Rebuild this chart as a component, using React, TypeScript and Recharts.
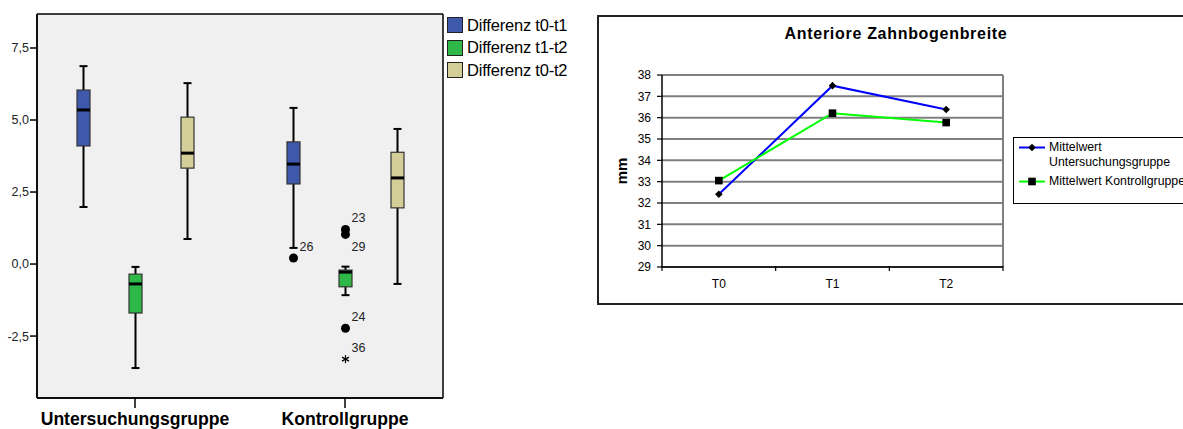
import React from "react";
import {
  ComposedChart,
  Bar,
  XAxis,
  YAxis,
  CartesianGrid,
  Legend,
  LineChart,
  Line,
} from "recharts";

const gruppen = ["Untersuchungsgruppe", "Kontrollgruppe"];

// Kennwerte je Gruppe: [Minimum, Q1, Median, Q3, Maximum]
const differenzT0T1 = [
  [1.98, 4.1, 5.35, 6.04, 6.87],
  [0.56, 2.78, 3.47, 4.24, 5.42],
];
const differenzT1T2 = [
  [-3.61, -1.7, -0.69, -0.35, -0.1],
  [-1.08, -0.79, -0.28, -0.21, -0.09],
];
const differenzT0T2 = [
  [0.87, 3.33, 3.85, 5.1, 6.28],
  [-0.69, 1.95, 2.99, 3.88, 4.69],
];

// Ausreißer mit Fallnummer; extrem = Stern statt Punkt
const ausreisserT0T1 = [[], [{ fall: "26", wert: 0.21 }]];
const ausreisserT1T2 = [
  [],
  [
    { fall: "23", wert: 1.2 },
    { fall: "29", wert: 1.03 },
    { fall: "24", wert: -2.23 },
    { fall: "36", wert: -3.3, extrem: true },
  ],
];
const ausreisserT0T2 = [[], []];

const boxTicks = [-2.5, 0, 2.5, 5, 7.5];

const zeitpunkte = ["T0", "T1", "T2"];
const mittelUntersuchung = [32.41, 37.5, 36.38];
const mittelKontroll = [33.05, 36.21, 35.77];
const mmTicks = [29, 30, 31, 32, 33, 34, 35, 36, 37, 38];

const SCHRIFT = "'Liberation Sans', Arial, Helvetica, sans-serif";

type Ausreisser = { fall: string; wert: number; extrem?: boolean };

const boxReihen = [
  { key: "t0t1", name: "Differenz t0-t1", farbe: "#3e58ac", werte: differenzT0T1, aus: ausreisserT0T1 },
  { key: "t1t2", name: "Differenz t1-t2", farbe: "#2eb848", werte: differenzT1T2, aus: ausreisserT1T2 },
  { key: "t0t2", name: "Differenz t0-t2", farbe: "#d3ce97", werte: differenzT0T2, aus: ausreisserT0T2 },
];

const boxDaten = gruppen.map((gruppe, i) => {
  const row: Record<string, any> = { gruppe };
  boxReihen.forEach((r) => {
    row[r.key] = r.werte[i];
    row[r.key + "Aus"] = r.aus[i];
  });
  return row;
});

// Zeitpunkte liegen auf 0, 1, 2; Teilstriche auf den Kategoriegrenzen dazwischen
const zeitTicks = [-0.5, 0, 0.5, 1, 1.5, 2, 2.5];

const mmDaten = zeitpunkte.map((t, i) => ({
  t,
  pos: i,
  unters: mittelUntersuchung[i],
  kontroll: mittelKontroll[i],
}));

// Box mit Whiskern; der Balken selbst spannt Minimum..Maximum auf,
// daraus ergibt sich die Pixelskala für Quartile, Median und Ausreißer
function BoxForm(props: any) {
  const { x, y, width, height, werte, ausreisser, farbe } = props;
  const [min, q1, med, q3, max] = werte as number[];
  const k = height / (max - min);
  const py = (v: number) => y + (max - v) * k;
  const cx = x + width / 2;
  const kappe = 4;
  return (
    <g>
      <line x1={cx} x2={cx} y1={py(max)} y2={py(q3)} stroke="#000" strokeWidth={2} />
      <line x1={cx} x2={cx} y1={py(q1)} y2={py(min)} stroke="#000" strokeWidth={2} />
      <line x1={cx - kappe} x2={cx + kappe} y1={py(max)} y2={py(max)} stroke="#000" strokeWidth={2} />
      <line x1={cx - kappe} x2={cx + kappe} y1={py(min)} y2={py(min)} stroke="#000" strokeWidth={2} />
      <rect x={x} y={py(q3)} width={width} height={py(q1) - py(q3)} fill={farbe} stroke="#333" strokeWidth={1.2} />
      <line x1={x} x2={x + width} y1={py(med)} y2={py(med)} stroke="#000" strokeWidth={3} />
      {(ausreisser as Ausreisser[]).map((a) => {
        const ay = py(a.wert);
        const nahDarueber = (ausreisser as Ausreisser[]).some(
          (b) => b.wert > a.wert && b.wert - a.wert < 0.3
        );
        const ly = nahDarueber ? ay + 13 : ay - 11;
        return (
          <g key={a.fall}>
            {a.extrem ? (
              <g stroke="#000" strokeWidth={1.2}>
                <line x1={cx} x2={cx} y1={ay - 4} y2={ay + 4} />
                <line x1={cx - 3.5} x2={cx + 3.5} y1={ay - 2} y2={ay + 2} />
                <line x1={cx - 3.5} x2={cx + 3.5} y1={ay + 2} y2={ay - 2} />
              </g>
            ) : (
              <circle cx={cx} cy={ay} r={4.5} fill="#000" />
            )}
            <text x={cx + 6} y={ly} dominantBaseline="central" fontSize={12.5} fill="#222" fontFamily={SCHRIFT}>
              {a.fall}
            </text>
          </g>
        );
      })}
    </g>
  );
}

function GruppenTick(props: any) {
  const { x, y, payload } = props;
  return (
    <text x={x} y={y + 15} textAnchor="middle" fontWeight="bold" fontSize={17.6} fill="#000" fontFamily={SCHRIFT}>
      {payload.value}
    </text>
  );
}

function BoxLegende() {
  return (
    <div style={{ fontFamily: SCHRIFT, fontSize: 16.5, color: "#000" }}>
      {boxReihen.map((r) => (
        <div key={r.key} style={{ display: "flex", alignItems: "center", height: 22.5 }}>
          <span
            style={{
              display: "inline-block",
              width: 14,
              height: 14,
              background: r.farbe,
              border: "1.5px solid #222",
              marginRight: 4,
            }}
          />
          <span style={{ letterSpacing: -0.2 }}>{r.name}</span>
        </div>
      ))}
    </div>
  );
}

// Teilstrich an Kategoriegrenzen, Beschriftung an den Zeitpunkten
function ZeitTick(props: any) {
  const { x, y, payload } = props;
  const v = payload.value as number;
  if (!Number.isInteger(v)) {
    return <line x1={x} x2={x} y1={y - 5} y2={y} stroke="#000" strokeWidth={1.2} />;
  }
  return (
    <text x={x} y={y + 17} textAnchor="middle" fontSize={12} fill="#000" fontFamily={SCHRIFT}>
      {zeitpunkte[v]}
    </text>
  );
}

function Raute(props: any) {
  const { cx, cy } = props;
  if (cx == null || cy == null) return null;
  return <path d={`M${cx},${cy - 3.8}L${cx + 3.8},${cy}L${cx},${cy + 3.8}L${cx - 3.8},${cy}Z`} fill="#000" />;
}

function Quadrat(props: any) {
  const { cx, cy } = props;
  if (cx == null || cy == null) return null;
  return <rect x={cx - 3.8} y={cy - 3.8} width={7.6} height={7.6} fill="#000" />;
}

function LinienLegende() {
  const zeile = (farbe: string, marker: React.ReactNode, text: React.ReactNode) => (
    <div style={{ display: "flex", alignItems: "flex-start" }}>
      <svg width={32} height={15} style={{ flex: "none" }}>
        <line x1={4} x2={30} y1={7.5} y2={7.5} stroke={farbe} strokeWidth={2} />
        {marker}
      </svg>
      <div style={{ lineHeight: "15px", paddingLeft: 2, whiteSpace: "nowrap" }}>{text}</div>
    </div>
  );
  return (
    <div
      style={{
        border: "1.5px solid #000",
        width: 260,
        height: 67,
        boxSizing: "border-box",
        padding: "2px 0 0 1px",
        fontFamily: SCHRIFT,
        fontSize: 12.3,
        color: "#000",
        background: "#fff",
      }}
    >
      {zeile(
        "#0000ff",
        <path d="M17,3.7L20.8,7.5L17,11.3L13.2,7.5Z" fill="#000" />,
        <>
          Mittelwert
          <br />
          Untersuchungsgruppe
        </>
      )}
      <div style={{ height: 4 }} />
      {zeile("#00ff00", <rect x={13.2} y={3.7} width={7.6} height={7.6} fill="#000" />, "Mittelwert Kontrollgruppe")}
    </div>
  );
}

const schwarzeLinie = { stroke: "#000", strokeWidth: 1.5 };

export default function App() {
  return (
    <div
      style={{
        position: "fixed",
        left: 0,
        top: 0,
        width: 1183,
        height: 429,
        overflow: "hidden",
        background: "#fff",
        fontFamily: SCHRIFT,
      }}
    >
      <div style={{ position: "absolute", left: 0, top: 0 }}>
        <ComposedChart
          width={595}
          height={429}
          data={boxDaten}
          margin={{ top: 14, right: 152, bottom: 0, left: 0 }}
          barGap={39}
        >
          {/* grauer Hintergrund mit Rahmen um die Zeichenfläche */}
          <CartesianGrid
            fill="#f0f0f0"
            fillOpacity={1}
            stroke="#000"
            strokeWidth={1.5}
            horizontalCoordinatesGenerator={({ offset }: any) => [offset.top, offset.top + offset.height]}
            verticalCoordinatesGenerator={({ offset }: any) => [offset.left, offset.left + offset.width]}
          />
          <XAxis
            dataKey="gruppe"
            height={31}
            padding={{ left: -7, right: -7 }}
            tickSize={10}
            tick={<GruppenTick />}
            axisLine={schwarzeLinie}
            tickLine={schwarzeLinie}
          />
          <YAxis
            domain={[-4.65, 8.68]}
            ticks={boxTicks}
            allowDataOverflow
            width={37}
            tickSize={7}
            tickMargin={1}
            axisLine={schwarzeLinie}
            tickLine={schwarzeLinie}
            tick={{ fontSize: 12.5, fill: "#222", fontFamily: SCHRIFT }}
            tickFormatter={(v: number) => v.toFixed(1).replace(".", ",")}
          />
          <Legend
            layout="vertical"
            align="center"
            verticalAlign="middle"
            wrapperStyle={{ left: 447, top: 14 }}
            content={<BoxLegende />}
          />
          {boxReihen.map((r) => (
            <Bar
              key={r.key}
              name={r.name}
              fill={r.farbe}
              barSize={13}
              dataKey={(row: any) => [row[r.key][0], row[r.key][4]]}
              isAnimationActive={false}
              shape={(p: any) => (
                <BoxForm
                  {...p}
                  werte={p.payload[r.key]}
                  ausreisser={p.payload[r.key + "Aus"]}
                  farbe={r.farbe}
                />
              )}
            />
          ))}
        </ComposedChart>
      </div>

      <div
        style={{
          position: "absolute",
          left: 597,
          top: 15,
          width: 700,
          height: 290,
          border: "2px solid #222",
          boxSizing: "border-box",
        }}
      />
      <div
        style={{
          position: "absolute",
          left: 597,
          top: 25,
          width: 598,
          textAlign: "center",
          fontWeight: "bold",
          fontSize: 16,
          letterSpacing: 0.7,
          color: "#000",
        }}
      >
        Anteriore Zahnbogenbreite
      </div>
      <div style={{ position: "absolute", left: 597, top: 15 }}>
        <LineChart
          width={600}
          height={289}
          data={mmDaten}
          margin={{ top: 60, right: 194, bottom: 0, left: 0 }}
        >
          <CartesianGrid
            stroke="#808080"
            strokeWidth={2}
            verticalCoordinatesGenerator={({ offset }: any) => [offset.left + offset.width]}
          />
          <XAxis
            type="number"
            dataKey="pos"
            domain={[-0.5, 2.5]}
            ticks={zeitTicks}
            allowDataOverflow
            interval={0}
            tickLine={false}
            tickSize={4}
            tickMargin={0}
            height={37}
            axisLine={schwarzeLinie}
            tick={<ZeitTick />}
          />
          <YAxis
            domain={[29, 38]}
            ticks={mmTicks}
            allowDataOverflow
            interval={0}
            width={65}
            tickSize={5}
            tickMargin={6}
            axisLine={schwarzeLinie}
            tickLine={{ stroke: "#000", strokeWidth: 1.2 }}
            tick={{ fontSize: 12, fill: "#000", fontFamily: SCHRIFT }}
            label={{
              content: (p: any) => {
                const vb = p.viewBox;
                const lx = vb.x + 24;
                const ly = vb.y + vb.height / 2;
                return (
                  <text
                    x={lx}
                    y={ly}
                    transform={`rotate(-90 ${lx} ${ly})`}
                    textAnchor="middle"
                    dominantBaseline="central"
                    fontWeight="bold"
                    fontSize={15}
                    fill="#000"
                    fontFamily={SCHRIFT}
                  >
                    mm
                  </text>
                );
              },
            }}
          />
          <Legend
            layout="vertical"
            align="center"
            verticalAlign="middle"
            wrapperStyle={{ left: 416, top: 122 }}
            content={<LinienLegende />}
          />
          <Line
            dataKey="unters"
            stroke="#0000ff"
            strokeWidth={2}
            dot={<Raute />}
            activeDot={false}
            isAnimationActive={false}
          />
          <Line
            dataKey="kontroll"
            stroke="#00ff00"
            strokeWidth={2}
            dot={<Quadrat />}
            activeDot={false}
            isAnimationActive={false}
          />
        </LineChart>
      </div>
    </div>
  );
}
